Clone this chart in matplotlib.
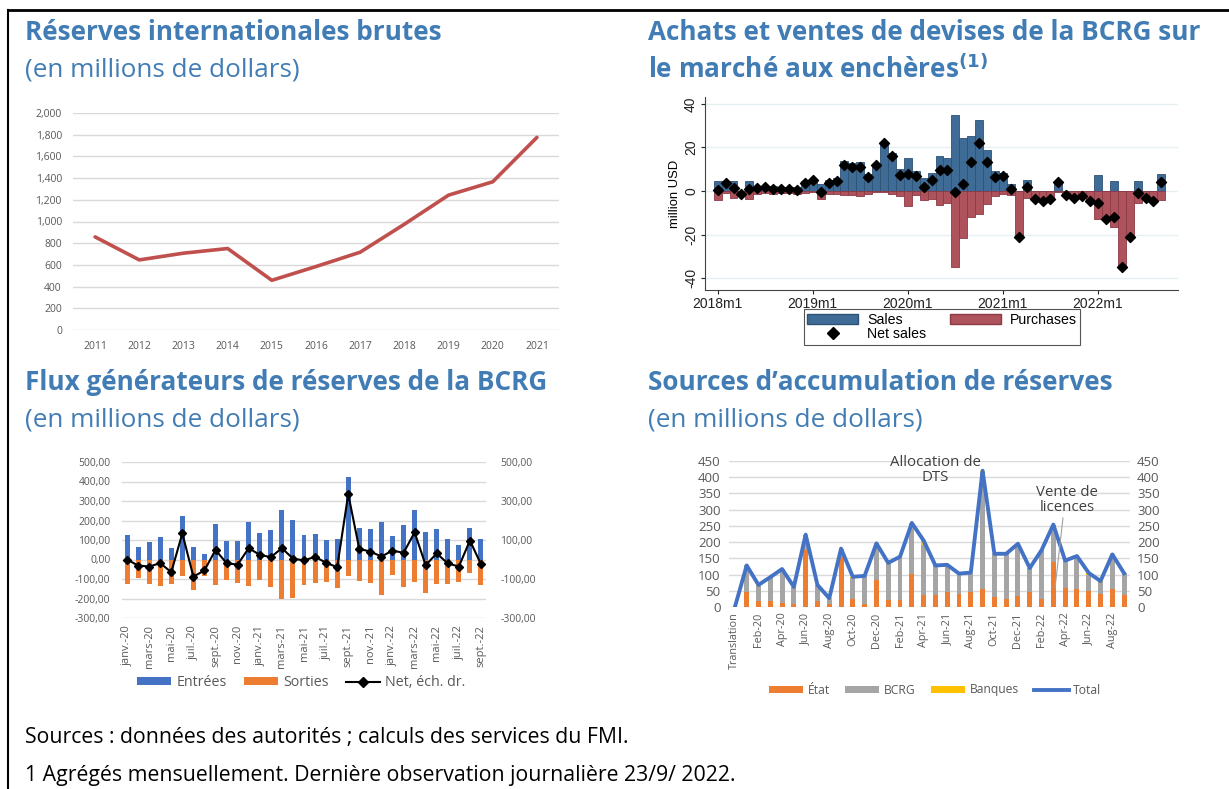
import matplotlib
matplotlib.use("Agg")
import matplotlib.pyplot as plt
from matplotlib.patches import Patch
from matplotlib.lines import Line2D
import numpy as np

plt.rcParams['font.family'] = ['Open Sans', 'DejaVu Sans']

W, H = 1229, 789

# ---------------- data ----------------
# Gross international reserves (USD millions)
years = ['2011', '2012', '2013', '2014', '2015', '2016', '2017', '2018', '2019', '2020', '2021']
reserves = [858, 646, 708, 751, 458, 585, 717, 975, 1243, 1366, 1775]

# BCRG auction sales / purchases, 2018m1 .. 2022m9 (USD millions)
auction_sales = [4.5, 4.5, 4.5, 0, 4.5, 2.5, 2.5, 2.5, 2, 2, 2, 4.5,
                 5.5, 3, 5, 6, 14, 13, 13.5, 8, 12.5, 22.5, 17.5, 10,
                 15, 9, 6, 8.5, 16, 15, 35, 24.5, 25.5, 32.5, 19, 9,
                 8.5, 3, 0, 5, 0, 0, 0, 4.5, 0, 0, 0, 0,
                 7.5, 0, 4.5, 0, 0, 4.5, 0, 0, 8]
auction_purchases = [-4, -0.7, -3, -1.5, -3.5, -1.2, -0.8, -1.5, -1, -1, -1.5, -0.7,
                     -0.5, -3.5, -1.5, -1.5, -1.8, -1.8, -2.5, -1.5, -0.5, -0.5, -1.5, -2.5,
                     -7, -2, -4, -3.5, -6.5, -5.5, -35, -21.5, -12, -10.5, -6, -2.5,
                     -1.5, -2, -21, -3, -3.5, -4.5, -3.5, -0.5, -2, -3, -2.5, -4.5,
                     -13, -13, -16.5, -35, -21, -5.5, -3, -4.5, -4]
auction_net = [0.5, 3.8, 1.5, -1.5, 1.0, 1.3, 1.7, 1.0, 1.0, 1.0, 0.5, 3.8,
               5, -0.5, 3.5, 4.5, 12, 11.2, 11, 6.5, 12, 22, 16, 7.5,
               8, 7, 2, 5, 9.5, 9.5, -0.3, 3, 13.5, 22, 13.5, 6.5,
               7, 1, -21, 2, -3.5, -4.5, -3.5, 4, -2, -3, -2.5, -4.5,
               -5.5, -13, -12, -35, -21, -1, -3, -4.5, 4]
auction_ticks = ['2018m1', '2019m1', '2020m1', '2021m1', '2022m1']

# Reserve-generating flows, Jan-2020 .. Sep-2022 (USD millions)
flow_months = ['janv.-20', 'févr.-20', 'mars-20', 'avr.-20', 'mai-20', 'juin-20', 'juil.-20', 'août-20',
               'sept.-20', 'oct.-20', 'nov.-20', 'déc.-20', 'janv.-21', 'févr.-21', 'mars-21', 'avr.-21',
               'mai-21', 'juin-21', 'juil.-21', 'août-21', 'sept.-21', 'oct.-21', 'nov.-21', 'déc.-21',
               'janv.-22', 'févr.-22', 'mars-22', 'avr.-22', 'mai-22', 'juin-22', 'juil.-22', 'août-22',
               'sept.-22']
inflows = [126, 63, 88, 114, 61, 221, 66, 26, 182, 94, 97, 194, 134, 151, 255, 202,
           126, 131, 100, 104, 423, 162, 158, 194, 119, 179, 252, 141, 156, 104, 75, 163, 104]
outflows = [-128, -94, -128, -134, -128, -85, -156, -83, -129, -107, -122, -138, -107, -141, -201, -197,
            -129, -121, -117, -145, -85, -112, -121, -182, -80, -141, -116, -172, -128, -128, -116, -70, -129]
net_flows = [0, -31, -36, -19, -65, 134, -88, -56, 49, -19, -26, 58, 24, 12, 58, 5,
             -5, 14, -17, -39, 335, 54, 41, 15, 46, 34, 139, -29, 31, -20, -36, 97, -24]

# Sources of reserve accumulation (USD millions)
acc_labels = ['Translation', 'Jan-20', 'Feb-20', 'Mar-20', 'Apr-20', 'May-20', 'Jun-20', 'Jul-20',
              'Aug-20', 'Sep-20', 'Oct-20', 'Nov-20', 'Dec-20', 'Jan-21', 'Feb-21', 'Mar-21',
              'Apr-21', 'May-21', 'Jun-21', 'Jul-21', 'Aug-21', 'Sep-21', 'Oct-21', 'Nov-21',
              'Dec-21', 'Jan-22', 'Feb-22', 'Mar-22', 'Apr-22', 'May-22', 'Jun-22', 'Jul-22',
              'Aug-22', 'Sep-22']
etat = [0, 45, 18, 18, 13, 10, 175, 18, 10, 155, 24, 10, 82, 22, 22, 102,
        37, 37, 45, 40, 45, 55, 30, 25, 35, 45, 24, 140, 58, 55, 50, 40, 57, 37]
bcrg = [0, 83, 47, 74, 104, 52, 48, 50, 13, 25, 66, 86, 114, 112, 133, 155,
        153, 91, 85, 63, 61, 362, 134, 139, 160, 75, 151, 114, 83, 97, 50, 36, 105, 67]
banques = [0, 0, 3, 0, 0, 0, 0, 0, 4, 0, 3, 0, 0, 2, 0, 2,
           15, 0, 0, 0, 0, 3, 0, 0, 0, 0, 0, 0, 2, 5, 5, 4, 0, 0]
acc_total = [0, 128, 68, 92, 117, 62, 223, 68, 27, 180, 93, 96, 196, 136, 155, 259,
             205, 128, 130, 103, 106, 420, 164, 164, 195, 120, 175, 254, 143, 157, 105, 80, 162, 104]

# ---------------- layout helpers ----------------
TITLE_COLOR = '#417DB4'
TICK_GRAY = '#595959'
GRID_GRAY = '#D9D9D9'
STATA_FONT = ['Liberation Sans', 'DejaVu Sans']


def rect(x0, y0, x1, y1):
    return [x0 / W, 1 - y1 / H, (x1 - x0) / W, (y1 - y0) / H]


def fx(x):
    return x / W


def fy(y):
    return 1 - y / H


def fr(v, decimals=2):
    s = f"{v:,.{decimals}f}"
    return s.replace(',', ' ').replace('.', ',')


fig = plt.figure(figsize=(W / 100, H / 100), dpi=100)

# frame lines
fig.add_artist(Line2D([fx(8), 1], [fy(10), fy(10)], color='black', lw=2))
fig.add_artist(Line2D([fx(8), fx(8)], [fy(10), 0], color='black', lw=1.5))

# panel titles
title_kw = dict(color=TITLE_COLOR, fontsize=18.8, fontweight='bold', va='center', ha='left')
sub_kw = dict(color=TITLE_COLOR, fontsize=18.8, va='center', ha='left')
fig.text(fx(25), fy(33), 'Réserves internationales brutes', **title_kw)
fig.text(fx(25), fy(70), '(en millions de dollars)', **sub_kw)
fig.text(fx(648), fy(33), 'Achats et ventes de devises de la BCRG sur', **title_kw)
fig.text(fx(648), fy(70), r'le marché aux enchères$^{\mathbf{(1)}}$', **title_kw)
fig.text(fx(25), fy(383), 'Flux générateurs de réserves de la BCRG', **title_kw)
fig.text(fx(25), fy(420), '(en millions de dollars)', **sub_kw)
fig.text(fx(648), fy(383), 'Sources d\u2019accumulation de réserves', **title_kw)
fig.text(fx(648), fy(420), '(en millions de dollars)', **sub_kw)

# footer
fig.text(fx(25), fy(738), 'Sources : données des autorités ; calculs des services du FMI.',
         fontsize=15.3, color='black', va='center', ha='left')
fig.text(fx(25), fy(775), '1 Agrégés mensuellement. Dernière observation journalière 23/9/ 2022.',
         fontsize=15.3, color='black', va='center', ha='left')

# ---------------- panel 1: gross reserves ----------------
ax1 = fig.add_axes(rect(73, 113, 559, 330))
x1 = np.arange(len(years))
ax1.plot(x1, reserves, color='#C0504D', lw=2.6, solid_capstyle='round', zorder=3)
ax1.set_xlim(-0.5, len(years) - 0.5)
ax1.set_ylim(0, 2000)
ax1.set_yticks(np.arange(0, 2001, 200))
ax1.set_yticklabels([f"{v:,}" for v in range(0, 2001, 200)])
ax1.set_xticks(x1)
ax1.set_xticklabels(years)
ax1.grid(axis='y', color=GRID_GRAY, lw=1)
ax1.set_axisbelow(True)
for s in ax1.spines.values():
    s.set_visible(False)
ax1.tick_params(length=0, labelsize=7.5, colors=TICK_GRAY, pad=8)

# ---------------- panel 2: auction sales/purchases ----------------
ax2 = fig.add_axes(rect(705, 97, 1178, 290))
x2 = np.arange(len(auction_sales))
ax2.bar(x2, auction_sales, width=1.0, color='#3F6C96', edgecolor='#2E5274', lw=0.6, zorder=2)
ax2.bar(x2, auction_purchases, width=1.0, color='#AE525C', edgecolor='#8C3A44', lw=0.6, zorder=2)
ax2.scatter(x2, auction_net, marker='D', s=26, color='black', zorder=4)
ax2.set_xlim(-1.6, 58.1)
ax2.set_ylim(-45.5, 43.2)
ax2.set_yticks([-40, -20, 0, 20, 40])
ax2.set_yticklabels(['-40', '-20', '0', '20', '40'], rotation=90, va='center')
ax2.set_xticks([0, 12, 24, 36, 48])
ax2.set_xticklabels(auction_ticks)
ax2.grid(axis='y', color='#E6EFF1', lw=1)
ax2.set_axisbelow(True)
ax2.spines['top'].set_visible(False)
ax2.spines['right'].set_visible(False)
ax2.spines['left'].set_color('#444444')
ax2.spines['bottom'].set_color('#444444')
ax2.tick_params(labelsize=10, colors='#222222', length=3, width=0.8, pad=2)
ax2.set_ylabel('million USD', fontsize=9.4, family=STATA_FONT, labelpad=2)
for lab in ax2.get_xticklabels() + ax2.get_yticklabels():
    lab.set_family(STATA_FONT)

leg_handles = [Patch(facecolor='#3F6C96', edgecolor='#2E5274'),
               Line2D([], [], marker='D', color='black', ls='none', markersize=6),
               Patch(facecolor='#AE525C', edgecolor='#8C3A44')]
leg_labels = ['Sales', 'Net sales', 'Purchases']
leg2 = fig.legend(leg_handles, leg_labels, ncol=2, loc='center',
                  bbox_to_anchor=(fx(942), fy(327)), frameon=True, fancybox=False,
                  edgecolor='#555555', framealpha=1,
                  prop={'family': STATA_FONT, 'size': 10.2},
                  handlelength=3.6, handleheight=0.75, columnspacing=1.7,
                  labelspacing=0.0, borderpad=0.25, handletextpad=0.6)
leg2.get_frame().set_linewidth(0.8)

# ---------------- panel 3: reserve-generating flows ----------------
ax3 = fig.add_axes(rect(121.5, 462, 486.5, 618))
x3 = np.arange(len(flow_months))
ax3.bar(x3, inflows, width=0.45, color='#4472C4', zorder=2)
ax3.bar(x3, outflows, width=0.45, color='#ED7D31', zorder=2)
ax3.set_xlim(-0.5, len(flow_months) - 0.5)
ax3.set_ylim(-300, 500)
ax3.set_yticks(np.arange(-300, 501, 100))
ax3.set_yticklabels([fr(v) for v in range(-300, 501, 100)])
ax3.set_xticks(x3[::2])
ax3.set_xticklabels(flow_months[::2], rotation=90)
ax3.grid(axis='y', color=GRID_GRAY, lw=1)
ax3.set_axisbelow(True)
for s in ax3.spines.values():
    s.set_visible(False)
ax3.tick_params(length=0, labelsize=7.5, colors=TICK_GRAY)
ax3.tick_params(axis='y', pad=8)
ax3.tick_params(axis='x', pad=5, labelsize=8)
ax3b = ax3.twinx()
ax3b.plot(x3, net_flows, color='black', lw=1.5, marker='D', markersize=4.5, zorder=4)
ax3b.set_ylim(-300, 500)
ax3b.set_yticks(np.arange(-300, 501, 200))
ax3b.set_yticklabels([fr(v) for v in range(-300, 501, 200)])
for s in ax3b.spines.values():
    s.set_visible(False)
ax3b.tick_params(length=0, labelsize=7.5, colors=TICK_GRAY, pad=10)

fig.legend([Patch(facecolor='#4472C4'), Patch(facecolor='#ED7D31'),
            Line2D([], [], color='black', lw=1.5, marker='D', markersize=5)],
           ['Entrées', 'Sorties', 'Net, éch. dr.'], ncol=3, loc='center',
           bbox_to_anchor=(fx(301), fy(683)), frameon=False, fontsize=10.3,
           labelcolor=TICK_GRAY, handlelength=2.4, handleheight=0.5,
           columnspacing=1.2, handletextpad=0.35)

# ---------------- panel 4: sources of accumulation ----------------
ax4 = fig.add_axes(rect(729, 461, 1130, 607))
x4 = np.arange(len(acc_labels))
ax4.bar(x4, etat, width=0.42, color='#ED7D31', zorder=2)
ax4.bar(x4, bcrg, width=0.42, bottom=etat, color='#A5A5A5', zorder=2)
ax4.bar(x4, banques, width=0.42, bottom=np.add(etat, bcrg), color='#FFC000', zorder=2)
ax4.plot(x4, acc_total, color='#4472C4', lw=2.8, zorder=4, solid_joinstyle='round')
ax4.set_xlim(-0.5, len(acc_labels) - 0.5)
ax4.set_ylim(0, 450)
ax4.set_yticks(np.arange(0, 451, 50))
ax4.set_xticks(x4[::2])
ax4.set_xticklabels(acc_labels[::2], rotation=90)
ax4.grid(axis='y', color=GRID_GRAY, lw=1)
ax4.set_axisbelow(True)
for s in ax4.spines.values():
    s.set_visible(False)
ax4.tick_params(length=0, labelsize=9.5, colors=TICK_GRAY)
ax4.tick_params(axis='y', pad=6)
ax4.tick_params(axis='x', labelsize=7.8, pad=4)
ax4b = ax4.twinx()
ax4b.set_ylim(0, 450)
ax4b.set_yticks(np.arange(0, 451, 50))
for s in ax4b.spines.values():
    s.set_visible(False)
ax4b.tick_params(length=0, labelsize=9.5, colors=TICK_GRAY, pad=5)

ax4.text(fx(935), fy(470), 'Allocation de\nDTS', transform=fig.transFigure, ha='center',
         va='center', fontsize=10.8, color='#404040', linespacing=1.05)
ax4.text(fx(1067), fy(500), 'Vente de\nlicences', transform=fig.transFigure, ha='center',
         va='center', fontsize=10.8, color='#404040', linespacing=1.05)
fig.add_artist(Line2D([fx(1063), fx(1055)], [fy(518), fy(588)], color='#A0A0A0', lw=0.8))

fig.legend([Patch(facecolor='#ED7D31'), Patch(facecolor='#A5A5A5'), Patch(facecolor='#FFC000'),
            Line2D([], [], color='#4472C4', lw=2.8)],
           ['État', 'BCRG', 'Banques', 'Total'], ncol=4, loc='center',
           bbox_to_anchor=(fx(935), fy(690)), frameon=False, fontsize=8.75,
           labelcolor=TICK_GRAY, handlelength=2.8, handleheight=0.5,
           columnspacing=1.3, handletextpad=0.35)

fig.savefig('out.png', dpi=100, facecolor='white')
